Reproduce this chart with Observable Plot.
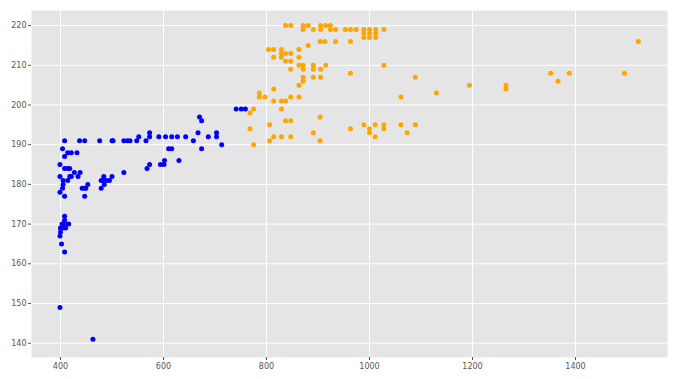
<!DOCTYPE html>
<html>
<head>
<meta charset="utf-8">
<script src="https://cdn.jsdelivr.net/npm/d3@7"></script>
<script src="https://cdn.jsdelivr.net/npm/@observablehq/plot@0.6"></script>
<style>
  html, body { margin: 0; padding: 0; background: white; }
  #chart { width: 698px; height: 379px; }
</style>
</head>
<body>
<div id="chart"></div>
<script>
// Blue series
const blueX = [
  408,437,447,476,500,502,523,530,535,548,566,658,
  552,573,591,604,616,627,643,687,703,
  573,667,703,
  670,
  674,
  741,751,759,
  713,
  404,610,616,674,
  414,421,432,
  408,
  602,630,
  399,573,594,601,
  408,414,418,568,
  427,438,523,
  399,418,421,434,484,500,
  405,414,479,484,489,495,
  405,453,485,
  404,442,447,449,479,
  399,
  408,447,
  408,
  408,
  403,406,410,416,
  400,404,410,
  400,
  399,
  402,
  408,
  399,
  463
];
const blueY = [
  191,191,191,191,191,191,191,191,191,191,191,191,
  192,192,192,192,192,192,192,192,192,
  193,193,193,
  197,
  196,
  199,199,199,
  190,
  189,189,189,189,
  188,188,188,
  187,
  186,186,
  185,185,185,185,
  184,184,184,184,
  183,183,183,
  182,182,182,182,182,182,
  181,181,181,181,181,181,
  180,180,180,
  179,179,179,179,179,
  178,
  177,177,
  172,
  171,
  170,170,170,170,
  169,169,169,
  168,
  167,
  165,
  163,
  149,
  141
];

// Orange series
const orangeX = [
  837,847,871,881,905,915,924,
  871,891,905,924,934,953,963,974,989,1000,1012,1028,
  989,1000,1012,
  989,1000,1012,
  904,913,934,963,1522,
  881,
  804,814,829,863,
  829,837,847,
  814,829,863,
  837,847,
  863,871,891,915,1028,
  847,871,891,905,
  963,1352,1388,1495,
  871,891,905,1089,
  871,1366,
  863,1194,1265,
  814,1265,
  786,1130,
  786,797,847,863,1061,
  814,829,837,
  775,829,
  768,
  904,
  837,847,
  806,989,1011,1028,1061,1089,
  768,963,1000,1028,
  891,1000,1073,
  814,829,847,1011,
  806,904,
  775
];
const orangeY = [
  220,220,220,220,220,220,220,
  219,219,219,219,219,219,219,219,219,219,219,219,
  218,218,218,
  217,217,217,
  216,216,216,216,216,
  215,
  214,214,214,214,
  213,213,213,
  212,212,212,
  211,211,
  210,210,210,210,210,
  209,209,209,209,
  208,208,208,208,
  207,207,207,207,
  206,206,
  205,205,205,
  204,204,
  203,203,
  202,202,202,202,202,
  201,201,201,
  199,199,
  198,
  197,
  196,196,
  195,195,195,195,195,195,
  194,194,194,194,
  193,193,193,
  192,192,192,192,
  191,191,
  190
];

const xTicks = [400, 600, 800, 1000, 1200, 1400];
const yTicks = [140, 150, 160, 170, 180, 190, 200, 210, 220];

const blue = blueX.map((x, i) => ({x, y: blueY[i]}));
const orange = orangeX.map((x, i) => ({x, y: orangeY[i]}));

const chart = Plot.plot({
  width: 698,
  height: 379,
  marginLeft: 31,
  marginRight: 31,
  marginTop: 10,
  marginBottom: 22,
  style: {background: "white", fontFamily: "DejaVu Sans, sans-serif", fontSize: "8px", color: "#555"},
  x: {domain: [343.7, 1578.6], ticks: xTicks},
  y: {domain: [136.4, 223.8], ticks: yTicks},
  marks: [
    Plot.frame({fill: "#e5e5e5", stroke: "none"}),
    Plot.gridX(xTicks, {stroke: "white", strokeOpacity: 1, strokeWidth: 1}),
    Plot.gridY(yTicks, {stroke: "white", strokeOpacity: 1, strokeWidth: 1}),
    Plot.axisX(xTicks, {tickSize: 3, stroke: "#555", tickPadding: 3, label: null, tickFormat: d => String(d)}),
    Plot.axisY(yTicks, {tickSize: 3, stroke: "#555", tickPadding: 2, label: null, tickFormat: d => String(d)}),
    Plot.dot(blue, {x: "x", y: "y", r: 2.5, fill: "blue", stroke: "none"}),
    Plot.dot(orange, {x: "x", y: "y", r: 2.5, fill: "orange", stroke: "none"})
  ]
});
document.getElementById("chart").appendChild(chart);
</script>
</body>
</html>
